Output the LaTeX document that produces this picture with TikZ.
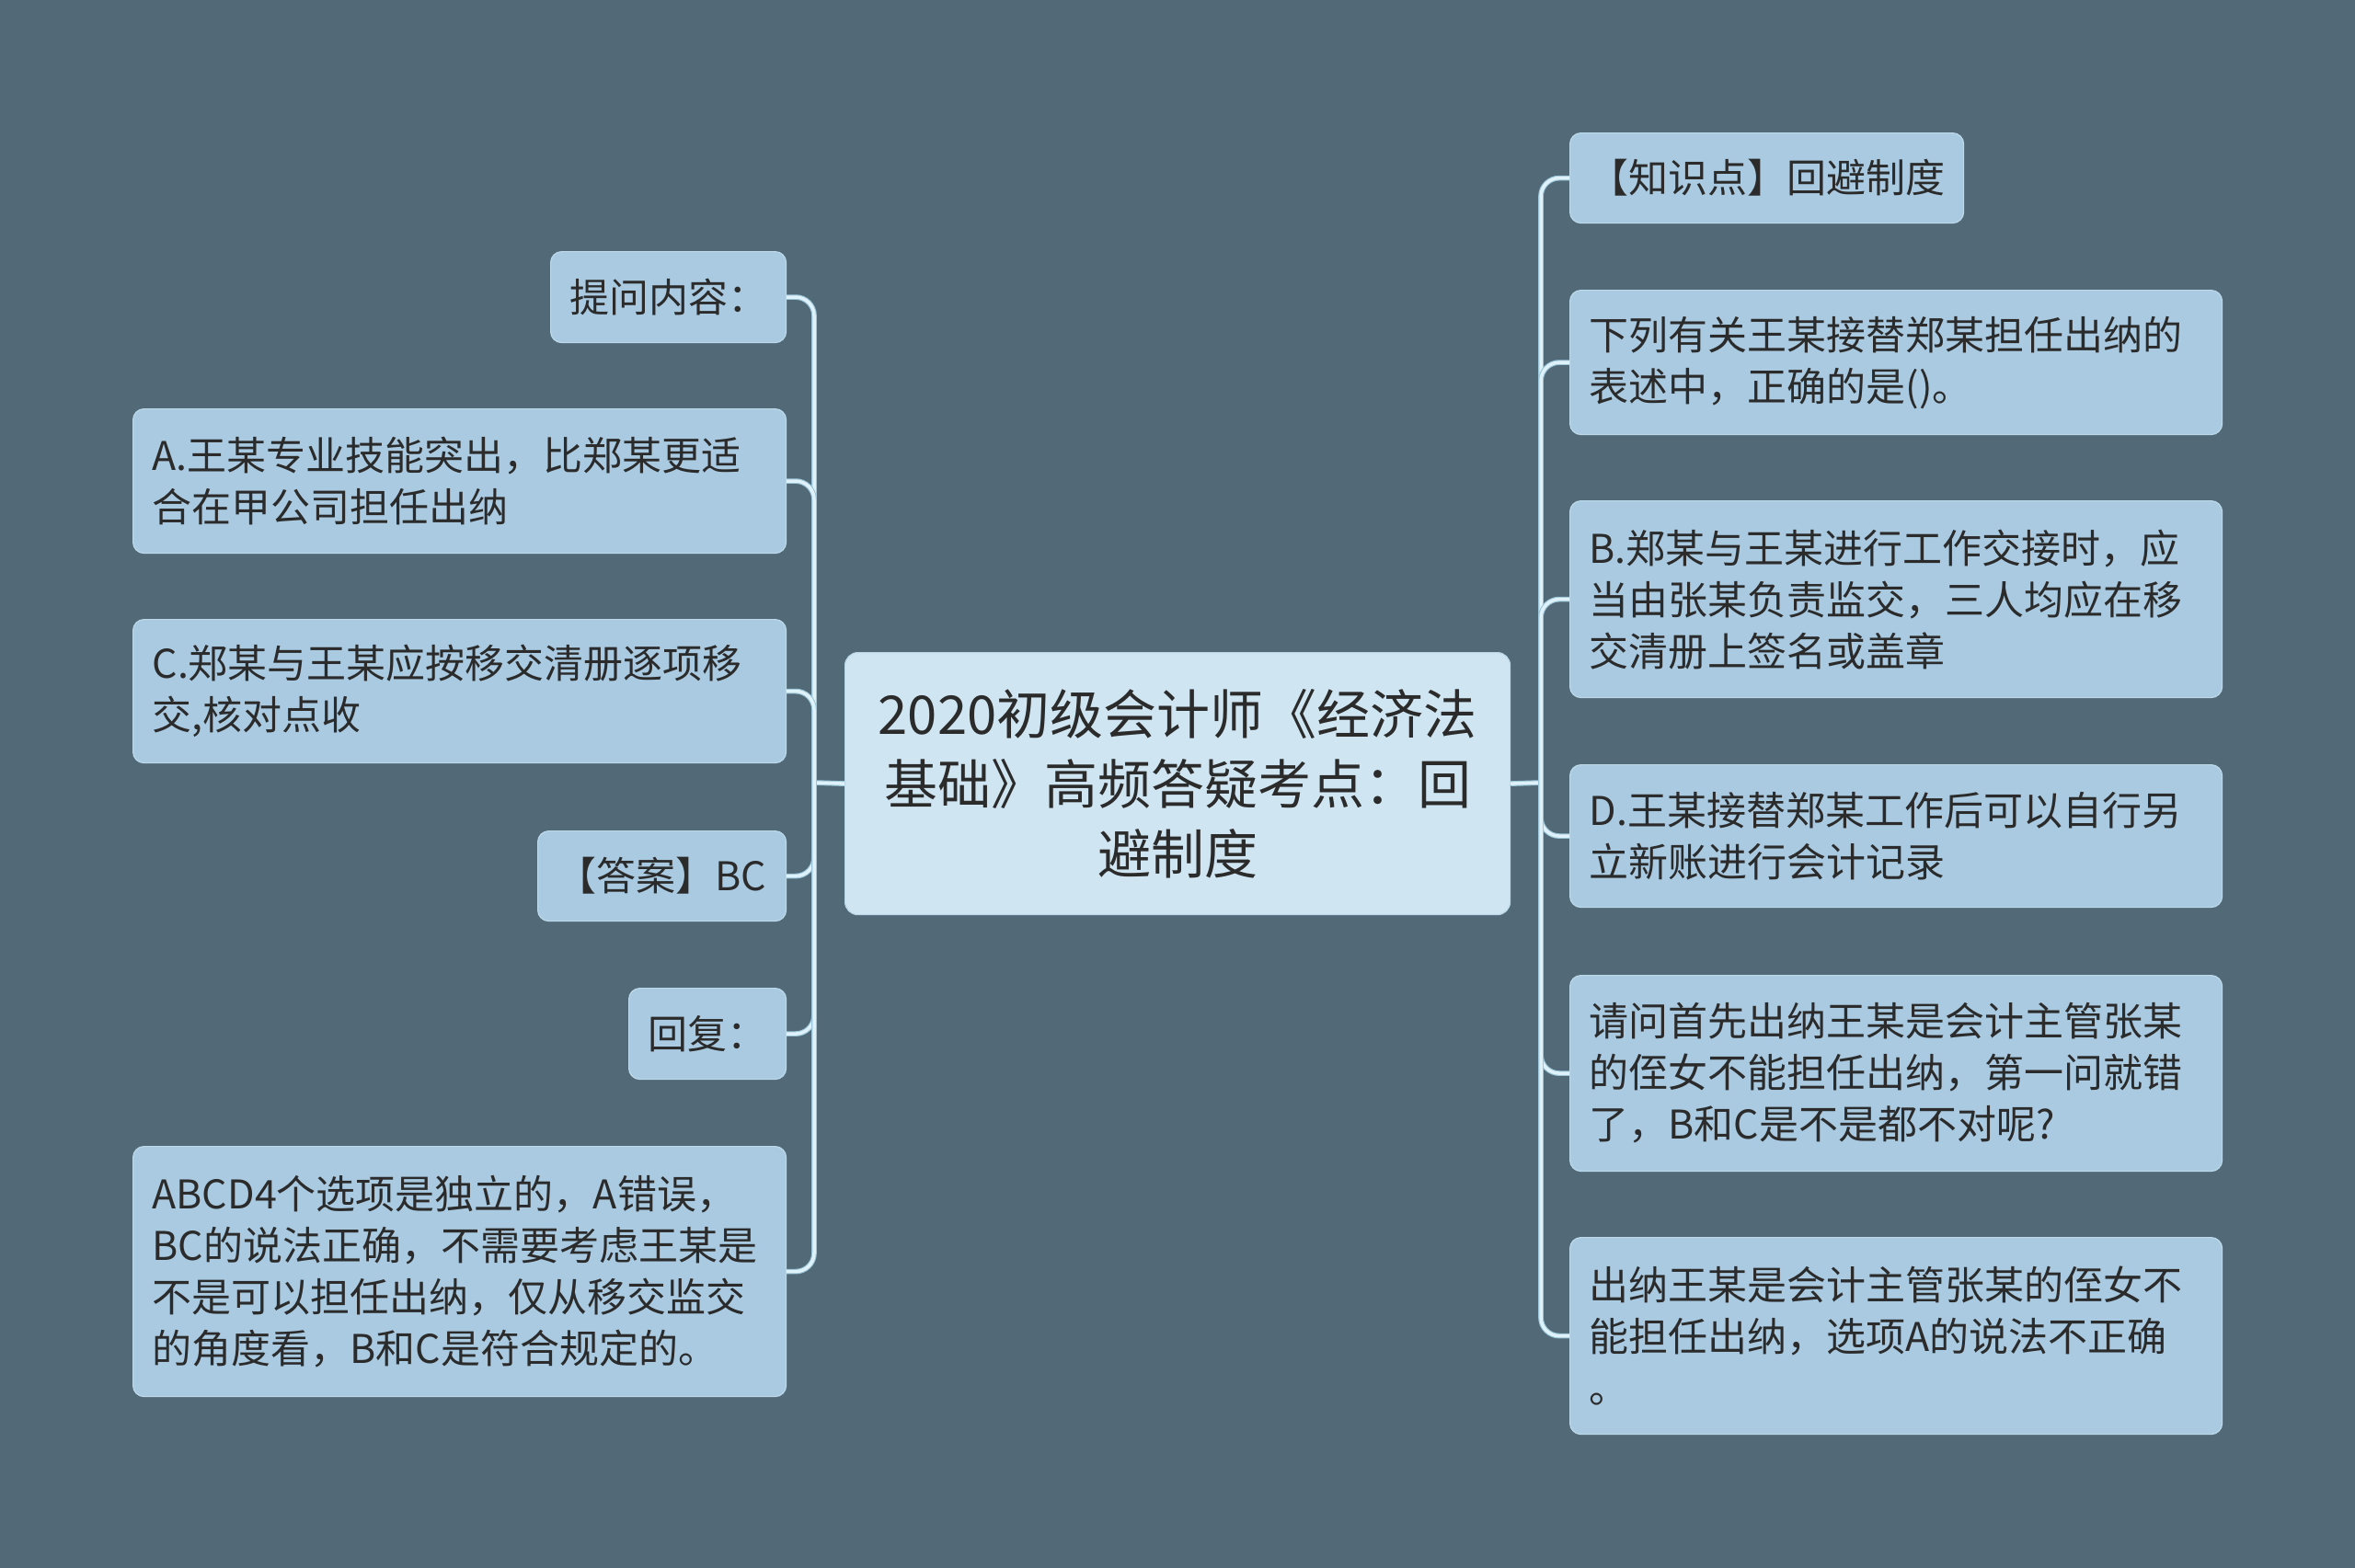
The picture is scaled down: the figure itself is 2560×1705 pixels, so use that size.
\documentclass[tikz,border=0pt]{standalone}
\usepackage{fontspec}
\setmainfont{Noto Sans CJK SC}
\definecolor{bg}{HTML}{526978}
\definecolor{boxfill}{HTML}{A9CAE1}
\definecolor{boxline}{HTML}{BCD9EA}
\definecolor{centerfill}{HTML}{CFE5F1}
\definecolor{txt}{HTML}{2B2B2B}
\definecolor{lineedge}{HTML}{9CC7DA}
\definecolor{linecore}{HTML}{DFF2F9}
\tikzset{
  leaf/.style={draw=boxline, line width=1.2pt, fill=boxfill, rounded corners=12pt,
    anchor=north west, inner xsep=21pt, inner ysep=0pt, align=left, text=txt,
    font=\fontsize{43}{56}\selectfont},
  root/.style={draw=boxline, line width=1.2pt, fill=centerfill, rounded corners=14pt,
    anchor=north west, inner xsep=20pt, inner ysep=0pt, align=center, text=txt,
    font=\fontsize{58}{76}\selectfont},
  conn/.style={draw=lineedge, double=linecore, double distance=3.5pt, line width=1.1pt,
    rounded corners=20pt}
}
\newcommand{\leafbox}[6]{%
  \node[leaf, minimum width=#4pt, minimum height=#5pt, text width=#4pt-42pt] (#1) at (#2,#3) {#6};}
\begin{document}
\begin{tikzpicture}[x=1pt,y=-1pt]
\fill[bg] (0,0) rectangle (2560,1705);
\useasboundingbox (0,0) rectangle (2560,1705);

\coordinate (jl) at (885,851);
\coordinate (jr) at (1675,851);

% connectors (drawn first)
\node[root, minimum width=723pt, minimum height=285pt, text width=683pt] (c) at (918,709)
  {2020初级会计师《经济法\\基础》高频答疑考点：回\\避制度};

\leafbox{l1}{598}{273}{256}{99}{提问内容：}
\leafbox{l2}{144}{444}{710}{157}{A.王某专业技能突出，比郑某更适\\合在甲公司担任出纳}
\leafbox{l3}{144}{673}{710}{156}{C.郑某与王某应按移交清册逐项移\\交,核对点收}
\leafbox{l4}{584}{903}{270}{98}{【答案】BC}
\leafbox{l5}{683}{1074}{171}{99}{回复：}
\leafbox{l6}{144}{1246}{710}{272}{ABCD4个选项是独立的，A错误，\\BC的说法正确，不需要考虑王某是\\不是可以担任出纳，仅从移交监交\\的角度看，B和C是符合规定的。}

\leafbox{r1}{1706}{144}{428}{98}{【知识点】回避制度}
\leafbox{r2}{1706}{315}{709}{157}{下列有关王某接替郑某担任出纳的\\表述中，正确的是()。}
\leafbox{r3}{1706}{544}{709}{214}{B.郑某与王某进行工作交接时，应\\当由张某负责监交，三人均应在移\\交清册上签名或盖章}
\leafbox{r4}{1706}{831}{709}{155}{D.王某接替郑某工作后可以自行另\\立新账进行会计记录}
\leafbox{r5}{1706}{1060}{709}{213}{请问首先出纳王某是会计主管张某\\的侄女不能担任出纳，第一问就错\\了，B和C是不是都不对呢?}
\leafbox{r6}{1706}{1345}{709}{214}{出纳王某是会计主管张某的侄女不\\能担任出纳，选项A的说法不正确\\。}

\begin{scope}[on background layer/.try]
\end{scope}

\draw[conn, rounded corners=0pt] (c.west) -- (jl);
\draw[conn, rounded corners=0pt] (c.east) -- (jr);
\foreach \n in {l1,l2,l3,l4,l5,l6} {
  \draw[conn] (jl) |- (\n.east);
}
\foreach \n in {r1,r2,r3,r4,r5,r6} {
  \draw[conn] (jr) |- (\n.west);
}
\end{tikzpicture}
\end{document}
